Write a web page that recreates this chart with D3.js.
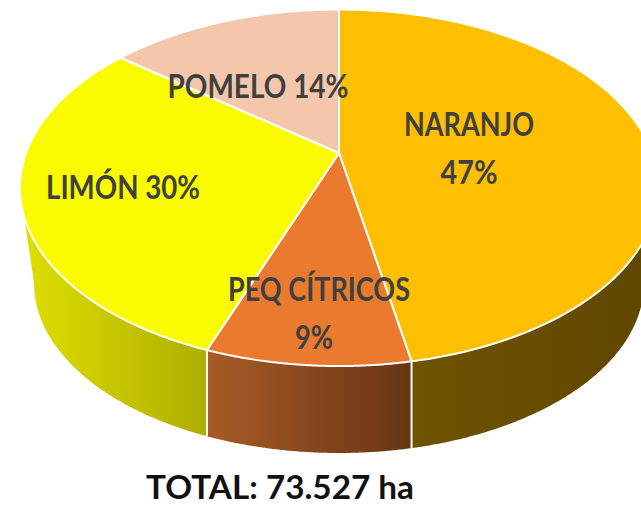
<!DOCTYPE html>
<html><head><meta charset="utf-8">
<script src="https://cdn.jsdelivr.net/npm/d3@7"></script>
<style>html,body{margin:0;padding:0;background:#fff}svg{display:block}text{font-family:Lato,"Open Sans",sans-serif}</style>
</head><body><div id="c"></div>
<script>
const categories = ["NARANJO","PEQ CÍTRICOS","LIMÓN","POMELO"];
const shares = [47, 8.6, 30.1, 14.3];
const totalLabel = "TOTAL: 73.527 ha";

const W=641,H=506;
const topColors=["#fdbf00","#ea7a2e","#fbfb00","#f4c7ac"];
const sideStops=[["#6e5300","#5f4700"],["#a85b26","#683514"],["#dede00","#aeae00"],["#f4c7ac","#f4c7ac"]];
const pct=i=>d3.format(".0f")(shares[i])+"%";
// label placement: centre x, baseline y, width per line
const labelLayout=[
 [{t:()=>categories[0],x:469,y:136,w:130},{t:()=>pct(0),x:469,y:184,w:57}],
 [{t:()=>categories[1],x:319,y:301,w:182},{t:()=>pct(1),x:314,y:349,w:38}],
 [{t:()=>categories[2]+" "+pct(2),x:123,y:199,w:154}],
 [{t:()=>categories[3]+" "+pct(3),x:258,y:98,w:181}]
];

const svg=d3.select("#c").append("svg").attr("width",W).attr("height",H).attr("viewBox",`0 0 ${W} ${H}`);
const defs=svg.append("defs");
const pie=d3.pie().sort(null)(shares);

// perspective projection of the unit circle (top face)
const cx=339,cy=153,A=171.5,B=313,k=-0.195;
const rim=a=>{const u=Math.sin(a),v=-Math.cos(a),w=1+k*v;return [cx+B*u/w,cy+A*v/w];};
// lower edge of the wall: an ellipse of its own, read at the same x as the rim
const bx=305,by=170,by0=283;
const base=a=>{
  const d=rim(a)[0]-cx, t=Math.max(-1,Math.min(1,d/bx));
  return [cx+bx*t, by0+by*Math.sqrt(1-t*t)];
};
const wallStart=Math.acos(-0.35), wallEnd=2*Math.PI-wallStart;
const arcAngles=(a0,a1)=>d3.range(0,121).map(i=>a0+(a1-a0)*i/120);
const line=d3.line();

const side=svg.append("g");
pie.forEach((d,i)=>{
  const a0=Math.max(d.startAngle,wallStart), a1=Math.min(d.endAngle,wallEnd);
  if(a1<=a0) return;
  const as=arcAngles(a0,a1);
  const pts=[...as.map(rim),...as.slice().reverse().map(base)];
  const xs=pts.map(p=>p[0]);
  const g=defs.append("linearGradient").attr("id","g"+i).attr("gradientUnits","userSpaceOnUse")
    .attr("x1",d3.min(xs)).attr("x2",d3.max(xs)).attr("y1",0).attr("y2",0);
  g.append("stop").attr("offset",0).attr("stop-color",sideStops[i][0]);
  g.append("stop").attr("offset",1).attr("stop-color",sideStops[i][1]);
  side.append("path").attr("d",line(pts)+"Z").attr("fill",`url(#g${i})`);
});
pie.forEach(d=>{
  const a=d.endAngle;
  if(a>wallStart&&a<wallEnd){
    side.append("path").attr("d",line([rim(a),base(a)])).attr("stroke","#fff").attr("stroke-width",2).attr("fill","none");
  }
});

svg.append("g").selectAll("path").data(pie).join("path")
  .attr("d",d=>line([[cx,cy],...arcAngles(d.startAngle,d.endAngle).map(rim)])+"Z")
  .attr("fill",(d,i)=>topColors[i]).attr("stroke","#fff").attr("stroke-width",2).attr("stroke-linejoin","round");

const lab=svg.append("g").attr("fill","#404040").attr("font-weight",700).attr("font-size",33).attr("text-anchor","middle");
labelLayout.flat().forEach(l=>{
  lab.append("text").attr("x",l.x).attr("y",l.y).attr("textLength",l.w).attr("lengthAdjust","spacingAndGlyphs").text(l.t());
});
svg.append("text").attr("x",280).attr("y",499).attr("text-anchor","middle").attr("font-size",33).attr("font-weight",700)
  .attr("fill","#111").attr("textLength",268).attr("lengthAdjust","spacingAndGlyphs").text(totalLabel);
</script></body></html>
